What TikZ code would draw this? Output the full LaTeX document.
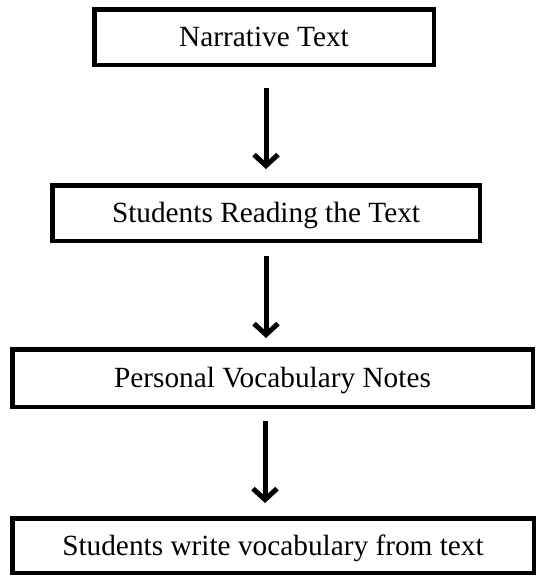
\documentclass[tikz,border=0pt]{standalone}
\usepackage{fontspec}
\setmainfont{Liberation Serif}
\usetikzlibrary{arrows.meta,positioning}

\begin{document}
\begin{tikzpicture}[x=1pt,y=-1pt,
    stepbox/.style={draw,line width=4.5pt,inner sep=0pt,
      font=\fontsize{29.3}{35}\selectfont,text height=19.4pt,text depth=0pt},
    flow/.style={line width=5pt,-{Straight Barb[length=11pt,width=24pt]}}]
  \useasboundingbox (0,0) rectangle (537,576);

  \node[stepbox,minimum width=339.5pt,minimum height=55.5pt] (narr) at (264,37) {Narrative Text};
  \node[stepbox,minimum width=427.5pt,minimum height=55.5pt] (read) at (266,213) {Students Reading the Text};
  \node[stepbox,minimum width=520.5pt,minimum height=57.5pt] (notes) at (272.5,378) {Personal Vocabulary Notes};
  \node[stepbox,minimum width=521.5pt,minimum height=54.5pt] (write) at (273,545.5) {Students write vocabulary from text};

  \draw[flow,shorten <=21pt,shorten >=14pt] ([xshift=2pt]narr.south) -- ([xshift=2pt]narr.south |- read.north);
  \draw[flow,shorten <=13pt,shorten >=9pt] (read.south) -- (read.south |- notes.north);
  \draw[flow,shorten <=12pt,shorten >=13pt] ([xshift=-7.5pt]notes.south) -- ([xshift=-7.5pt]notes.south |- write.north);
\end{tikzpicture}
\end{document}
